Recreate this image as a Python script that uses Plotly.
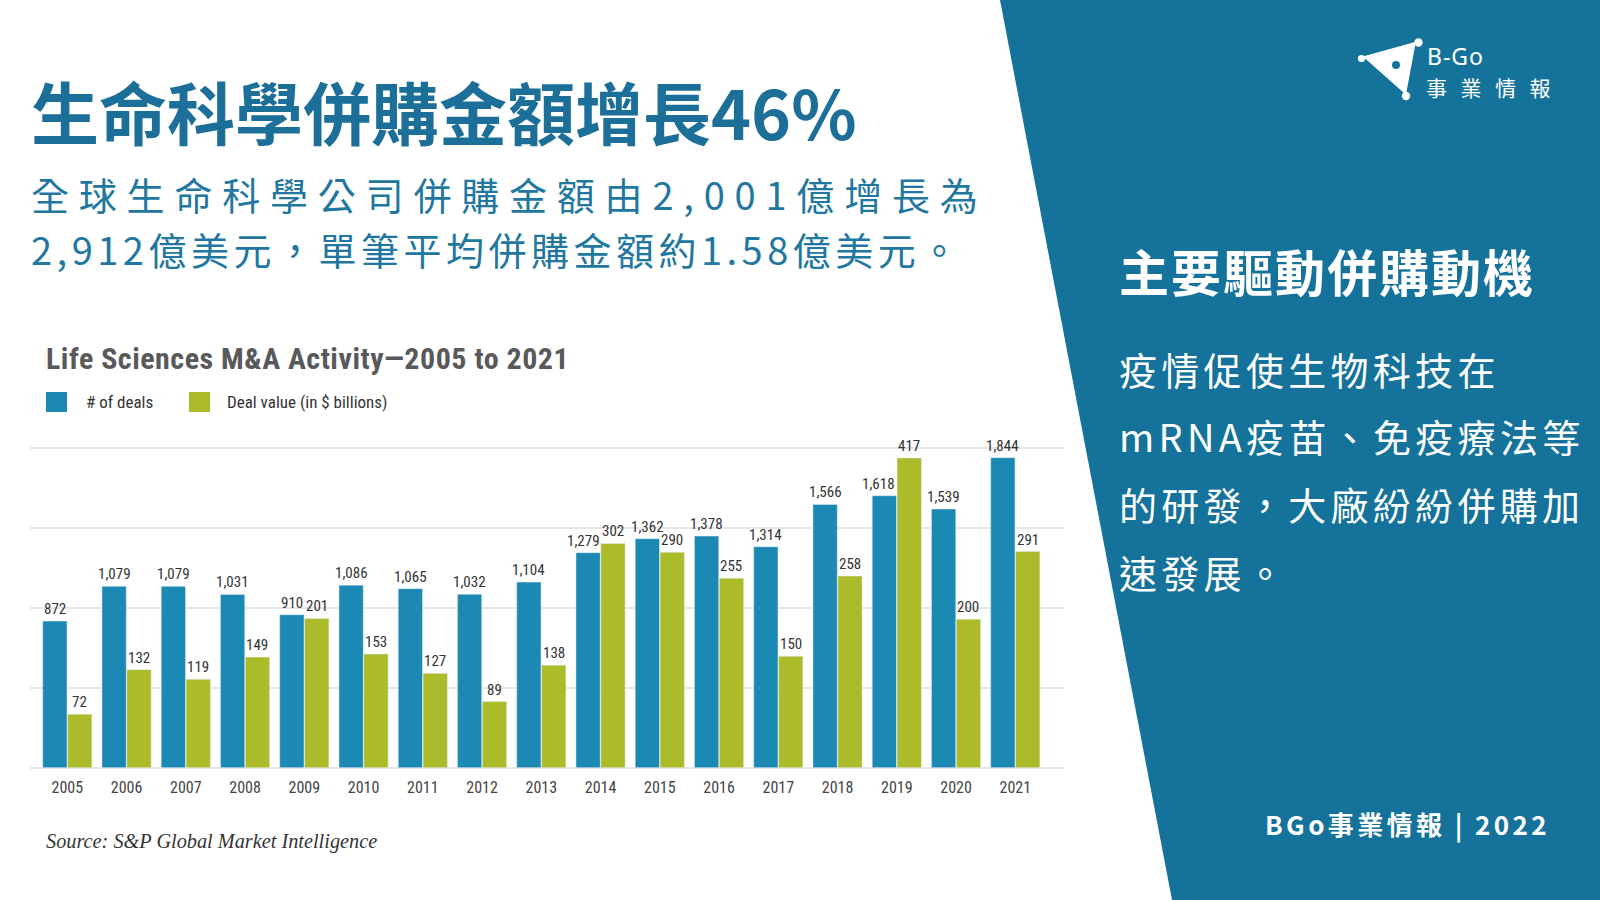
import plotly.graph_objects as go

# ---------------- data ----------------
years = ["2005", "2006", "2007", "2008", "2009", "2010", "2011", "2012", "2013",
         "2014", "2015", "2016", "2017", "2018", "2019", "2020", "2021"]
deals = [872, 1079, 1079, 1031, 910, 1086, 1065, 1032, 1104,
         1279, 1362, 1378, 1314, 1566, 1618, 1539, 1844]
deal_value = [72, 132, 119, 149, 201, 153, 127, 89, 138,
              302, 290, 255, 150, 258, 417, 200, 291]

series_names = ["# of deals", "Deal value (in $ billions)"]
chart_title = "Life Sciences M&amp;A Activity—2005 to 2021"
source_text = "Source: S&amp;P Global Market Intelligence"
heading = "生命科學併購金額增長46%"
sub_lines = ["全球生命科學公司併購金額由2,001億增長為",
             "2,912億美元，單筆平均併購金額約1.58億美元。"]
side_heading = "主要驅動併購動機"
side_lines = ["疫情促使生物科技在", "mRNA疫苗、免疫療法等", "的研發，大廠紛紛併購加", "速發展。"]
footer = "BGo事業情報 | 2022"
logo_top = "B-Go"
logo_bottom = "事業情報"

# ---------------- styles ----------------
W, H = 1600, 900
BLUE = "#1c89b4"
GREEN = "#abbb29"
TEAL = "#1b6f98"
PANEL = "#14729b"
NARROW = "Noto Sans Condensed, Liberation Sans Narrow, Roboto Condensed, Roboto, sans-serif"
CJK = "Noto Sans CJK TC, Noto Sans CJK SC, sans-serif"
label_nudge = {"2014": -5, "2019": -6}   # pixel nudges for crowded deal labels

# plot-area geometry (pixels)
PLOT_L, PLOT_R = 29.6, 1063.3
BASE_Y, GRID_TOP_Y = 767.7, 448.3
DEAL_TOP, VALUE_TOP = 1900, 430          # axis values at the top gridline
EXTRA = 25 / 1900                          # headroom so the top gridline is drawn
PITCH = 59.25
BAR_W = 0.41


def px(x):
    return x / W


def py(y):
    return 1 - y / H


def spaced(txt, ls):
    return f'<span style="letter-spacing:{ls}px">{txt}</span>'


fig = go.Figure()

fig.add_trace(go.Bar(
    x=years, y=deals, name=series_names[0], marker_color=BLUE,
    width=BAR_W, offset=-BAR_W - 0.005, yaxis="y", showlegend=False,
))
fig.add_trace(go.Bar(
    x=years, y=deal_value, name=series_names[1], marker_color=GREEN,
    width=BAR_W, offset=0.005, yaxis="y2", showlegend=False,
))

shapes = []
# right panel
shapes.append(dict(type="path", xref="paper", yref="paper",
                   path=f"M {px(1000)},{py(0)} L {px(1600)},{py(0)} L {px(1600)},{py(900)} L {px(1172)},{py(900)} Z",
                   fillcolor=PANEL, line=dict(width=0), layer="below"))
# legend squares
shapes.append(dict(type="rect", xref="paper", yref="paper",
                   x0=px(46), x1=px(67), y0=py(392), y1=py(412),
                   fillcolor=BLUE, line=dict(width=0)))
shapes.append(dict(type="rect", xref="paper", yref="paper",
                   x0=px(189), x1=px(210), y0=py(392), y1=py(412),
                   fillcolor=GREEN, line=dict(width=0)))

# logo icon (approximation)
shapes.append(dict(type="path", xref="paper", yref="paper",
                   path=(f"M {px(1369)},{py(58)} L {px(1412)},{py(46)} "
                         f"L {px(1404)},{py(89)} Z"),
                   fillcolor="white", line=dict(color="white", width=6)))
for cx, cy, r in [(1361.5, 58.5, 3.6), (1418.5, 42.5, 4.2), (1406, 96, 4.2)]:
    shapes.append(dict(type="circle", xref="paper", yref="paper",
                       x0=px(cx - r), x1=px(cx + r), y0=py(cy - r), y1=py(cy + r),
                       fillcolor="white", line=dict(width=0)))
shapes.append(dict(type="circle", xref="paper", yref="paper",
                   x0=px(1396 - 5), x1=px(1396 + 5), y0=py(65 - 5), y1=py(65 + 5),
                   fillcolor=PANEL, line=dict(color="white", width=2)))

annotations = []


def ann(text, x, y, size, color, family, xanchor="left", bold=False, style="normal"):
    annotations.append(dict(
        text=f"<b>{text}</b>" if bold else text, x=px(x), y=py(y),
        xref="paper", yref="paper", xanchor=xanchor, yanchor="middle",
        showarrow=False, font=dict(size=size, color=color, family=family, style=style),
    ))


# bar value labels, positioned through the axes (category index as x)
half = (BAR_W / 2 + 0.005) * PITCH
for i, (yr, d, v) in enumerate(zip(years, deals, deal_value)):
    annotations.append(dict(
        text=f"{d:,}", x=i, y=d, xref="x", yref="y", xanchor="center", yanchor="bottom",
        xshift=-half + label_nudge.get(yr, 0), yshift=1, showarrow=False,
        font=dict(family=NARROW, size=15, color="#333333")))
    annotations.append(dict(
        text=f"{v}", x=i, y=v, xref="x", yref="y2", xanchor="center", yanchor="bottom",
        xshift=half, yshift=1, showarrow=False,
        font=dict(family=NARROW, size=15, color="#333333")))

ann(heading, 29, 111, 68, TEAL, CJK, bold=True)
ann(spaced(sub_lines[0], 9.8), 29, 194, 38, "#2277a0", CJK)
ann(spaced(sub_lines[1], 4.5), 29, 249, 38, "#2277a0", CJK)

ann(spaced(chart_title, 0.5), 44, 358, 30, "#58595b", NARROW, bold=True)
ann(series_names[0], 84, 402, 17, "#333333", NARROW)
ann(series_names[1], 225, 402, 17, "#333333", NARROW)
ann(source_text, 44, 841, 20.3, "#333333", "Liberation Serif, DejaVu Serif, serif", style="italic")

ann(spaced(side_heading, 2), 1117, 270, 50, "white", CJK, bold=True)
for i, line in enumerate(side_lines):
    ann(spaced(line, 4.3), 1117, 368 + i * 67.7, 38, "white", CJK)

ann(spaced(footer, 3.4), 1263, 824, 26, "white", CJK, bold=True)
ann(spaced(logo_top, 1), 1425, 56, 23, "white", "Noto Sans, sans-serif")
ann(spaced(logo_bottom, 13.5), 1424, 87, 21, "white", CJK)

c0 = 67.3  # pixel centre of the first category
x_range = [(PLOT_L - c0) / PITCH, (PLOT_R - c0) / PITCH]
plot_h = BASE_Y - GRID_TOP_Y
top_px = BASE_Y - plot_h * (1 + EXTRA)

fig.update_layout(
    width=W, height=H, margin=dict(l=0, r=0, t=0, b=0),
    paper_bgcolor="white", plot_bgcolor="rgba(0,0,0,0)",
    barmode="overlay", shapes=shapes, annotations=annotations,
    xaxis=dict(type="category", domain=[px(PLOT_L), px(PLOT_R)], range=x_range,
               showgrid=False, zeroline=False, showline=False, ticks="",
               tickfont=dict(family=NARROW, size=16, color="#444444"),
               ticklabelstandoff=8, fixedrange=True),
    yaxis=dict(domain=[py(BASE_Y), py(top_px)], range=[0, DEAL_TOP * (1 + EXTRA)], dtick=475,
               showticklabels=False, showgrid=True, gridcolor="#e6e6e6", gridwidth=2,
               zeroline=True, zerolinecolor="#e6e6e6", zerolinewidth=2, ticks=""),
    yaxis2=dict(overlaying="y", range=[0, VALUE_TOP * (1 + EXTRA)], visible=False, showgrid=False),
)

fig.write_html("out.html", config={"displayModeBar": False},
               post_script="document.body.style.margin='0';document.body.style.overflow='hidden';")
